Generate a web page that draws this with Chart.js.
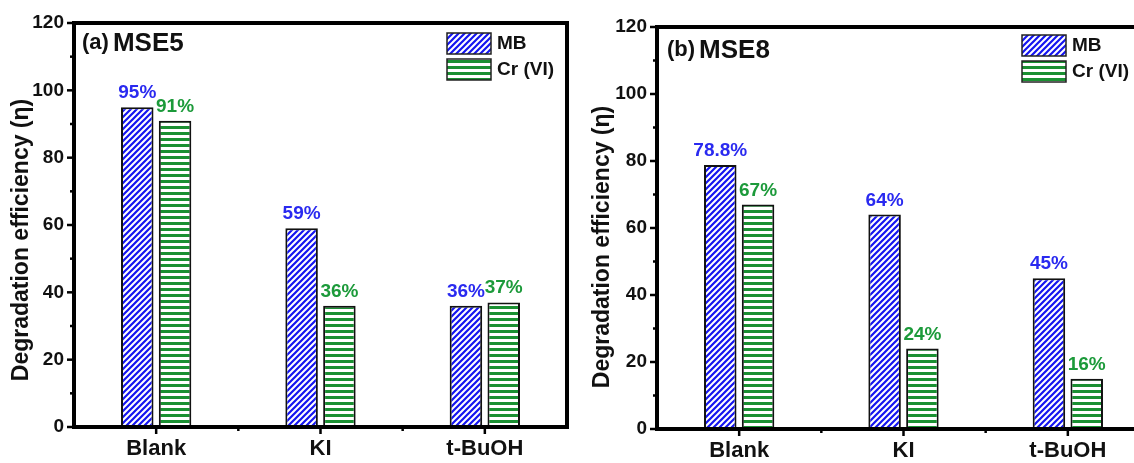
<!DOCTYPE html>
<html>
<head>
<meta charset="utf-8">
<script src="https://cdn.jsdelivr.net/npm/chart.js@4.4.0/dist/chart.umd.min.js"></script>
<style>
  html, body { margin: 0; padding: 0; background: #fff; overflow: hidden; width: 1134px; height: 463px; }
  #panelA { position: absolute; left: 0; top: 0; }
  #panelB { position: absolute; left: 583px; top: 0; }
</style>
</head>
<body>
<div id="panelA"><canvas id="graficoA" width="575" height="463"></canvas></div>
<div id="panelB"><canvas id="graficoB" width="575" height="463"></canvas></div>
<script>
// datos
const categorias = ['Blank', 'KI', 't-BuOH'];
const series = ['MB', 'Cr (VI)'];

const mse5MB = [95, 59, 36];
const mse5Cr = [91, 36, 37];
const mse5MBTexto = ['95%', '59%', '36%'];
const mse5CrTexto = ['91%', '36%', '37%'];

const mse8MB = [78.8, 64, 45];
const mse8Cr = [67, 24, 15];
const mse8MBTexto = ['78.8%', '64%', '45%'];
const mse8CrTexto = ['67%', '24%', '16%'];

const yMin = 0, yMax = 120, yPaso = 20, yMenor = 10;

const FUENTE = "'Liberation Sans', Arial, sans-serif";
const azulRaya = '#1414f0';
const verdeRaya = '#1a9032';
const azulTexto = '#2a2af0';
const verdeTexto = '#1c9a3a';

function rayaDiagonal(color) {
    const s = 6;
    const c = document.createElement('canvas');
    c.width = s; c.height = s;
    const g = c.getContext('2d');
    g.fillStyle = '#fff';
    g.fillRect(0, 0, s, s);
    g.strokeStyle = color;
    g.lineWidth = 2.2;
    g.beginPath();
    g.moveTo(-1, 1); g.lineTo(1, -1);
    g.moveTo(0, s); g.lineTo(s, 0);
    g.moveTo(s - 1, s + 1); g.lineTo(s + 1, s - 1);
    g.stroke();
    return g.createPattern(c, 'repeat');
}

function rayaHorizontal(color) {
    const s = 6;
    const c = document.createElement('canvas');
    c.width = s; c.height = s;
    const g = c.getContext('2d');
    g.fillStyle = '#fff';
    g.fillRect(0, 0, s, s);
    g.fillStyle = color;
    g.fillRect(0, 0, s, 3);
    return g.createPattern(c, 'repeat');
}

const patronMB = rayaDiagonal(azulRaya);
const patronCr = rayaHorizontal(verdeRaya);

// marco y marcas de los ejes
const marcoPlugin = {
    id: 'marco',
    afterDatasetsDraw(chart) {
        const { ctx, chartArea: a, scales: { x, y } } = chart;
        ctx.save();
        ctx.strokeStyle = '#000';
        ctx.lineWidth = 2.5;
        for (let v = yMin; v <= yMax; v += yMenor) {
            const py = y.getPixelForValue(v);
            const largo = v % yPaso === 0 ? 7 : 4;
            ctx.beginPath();
            ctx.moveTo(a.left - largo, py);
            ctx.lineTo(a.left, py);
            ctx.stroke();
        }
        for (let i = 0; i < categorias.length; i++) {
            const px = x.getPixelForValue(i);
            ctx.beginPath();
            ctx.moveTo(px, a.bottom);
            ctx.lineTo(px, a.bottom + 7);
            ctx.stroke();
            if (i < categorias.length - 1) {
                const pm = (px + x.getPixelForValue(i + 1)) / 2;
                ctx.beginPath();
                ctx.moveTo(pm, a.bottom);
                ctx.lineTo(pm, a.bottom + 4);
                ctx.stroke();
            }
        }
        ctx.lineWidth = 4;
        ctx.strokeRect(a.left, a.top, a.right - a.left, a.bottom - a.top);
        ctx.restore();
    }
};

// textos: valores, leyenda, rotulo del panel y titulo del eje y
const textosPlugin = {
    id: 'textos',
    afterDraw(chart, args, opts) {
        const ctx = chart.ctx;
        const a = chart.chartArea;
        ctx.save();

        ctx.font = `bold 19px ${FUENTE}`;
        ctx.textAlign = 'center';
        ctx.textBaseline = 'alphabetic';
        chart.data.datasets.forEach((ds, i) => {
            const meta = chart.getDatasetMeta(i);
            meta.data.forEach((bar, j) => {
                ctx.fillStyle = ds.colorTexto;
                ctx.fillText(ds.textos[j], bar.x, bar.y - 9);
            });
        });

        // leyenda
        chart.data.datasets.forEach((ds, i) => {
            const bx = a.left + opts.leyendaX;
            const by = a.top + opts.leyendaY + i * 26;
            ctx.fillStyle = ds.backgroundColor;
            ctx.fillRect(bx, by, 44, 21);
            ctx.lineWidth = 1.5;
            ctx.strokeStyle = '#222';
            ctx.strokeRect(bx, by, 44, 21);
            ctx.fillStyle = '#111';
            ctx.textAlign = 'left';
            ctx.textBaseline = 'middle';
            ctx.font = `bold 19px ${FUENTE}`;
            ctx.fillText(ds.label, bx + 50, by + 11);
        });

        // rotulo del panel
        ctx.fillStyle = '#111';
        ctx.textAlign = 'left';
        ctx.textBaseline = 'middle';
        ctx.font = `bold 22px ${FUENTE}`;
        const px = a.left + opts.rotuloX;
        const py = a.top + opts.rotuloY;
        ctx.fillText(opts.letra, px, py);
        const w = ctx.measureText(opts.letra).width;
        ctx.font = `bold 26px ${FUENTE}`;
        ctx.fillText(opts.nombre, px + w + 4, py + 1);

        // titulo eje y
        ctx.translate(opts.tituloX, opts.tituloY);
        ctx.rotate(-Math.PI / 2);
        ctx.textAlign = 'center';
        ctx.textBaseline = 'middle';
        ctx.font = `bold 23px ${FUENTE}`;
        ctx.fillText('Degradation efficiency (\u03b7)', 0, 0);
        ctx.restore();
    }
};

function crearGrafico(id, mb, cr, mbTexto, crTexto, cfg) {
    const ctx = document.getElementById(id);
    return new Chart(ctx, {
        type: 'bar',
        data: {
            labels: categorias,
            datasets: [{
                label: series[0],
                data: mb,
                backgroundColor: patronMB,
                borderColor: '#111',
                borderWidth: 2,
                borderSkipped: false,
                textos: mbTexto,
                colorTexto: azulTexto
            }, {
                label: series[1],
                data: cr,
                backgroundColor: patronCr,
                borderColor: '#111',
                borderWidth: 2,
                borderSkipped: false,
                textos: crTexto,
                colorTexto: verdeTexto
            }]
        },
        options: {
            responsive: false,
            animation: false,
            categoryPercentage: 0.46,
            barPercentage: 0.86,
            layout: {
                padding: { top: cfg.arriba, right: 8, left: 0, bottom: 0 }
            },
            plugins: {
                legend: { display: false },
                tooltip: { enabled: false },
                textos: cfg.textos
            },
            scales: {
                x: {
                    grid: { display: false, drawTicks: false },
                    border: { display: false },
                    ticks: {
                        color: '#111',
                        padding: 9,
                        font: { family: FUENTE, weight: 'bold', size: 22 }
                    },
                    afterFit(s) { s.height = cfg.abajo; }
                },
                y: {
                    min: yMin,
                    max: yMax,
                    grid: { display: false, drawTicks: false },
                    border: { display: false },
                    ticks: {
                        stepSize: yPaso,
                        color: '#111',
                        padding: 10,
                        font: { family: FUENTE, weight: 'bold', size: 19 }
                    },
                    afterFit(s) { s.width = 74; }
                }
            }
        },
        plugins: [marcoPlugin, textosPlugin]
    });
}

crearGrafico('graficoA', mse5MB, mse5Cr, mse5MBTexto, mse5CrTexto, {
    arriba: 23, abajo: 36,
    textos: { leyendaX: 373, leyendaY: 10, rotuloX: 8, rotuloY: 20, letra: '(a)', nombre: 'MSE5', tituloX: 22, tituloY: 240 }
});

crearGrafico('graficoB', mse8MB, mse8Cr, mse8MBTexto, mse8CrTexto, {
    arriba: 27, abajo: 34,
    textos: { leyendaX: 365, leyendaY: 8, rotuloX: 10, rotuloY: 23, letra: '(b)', nombre: 'MSE8', tituloX: 20, tituloY: 247 }
});
</script>
</body>
</html>
